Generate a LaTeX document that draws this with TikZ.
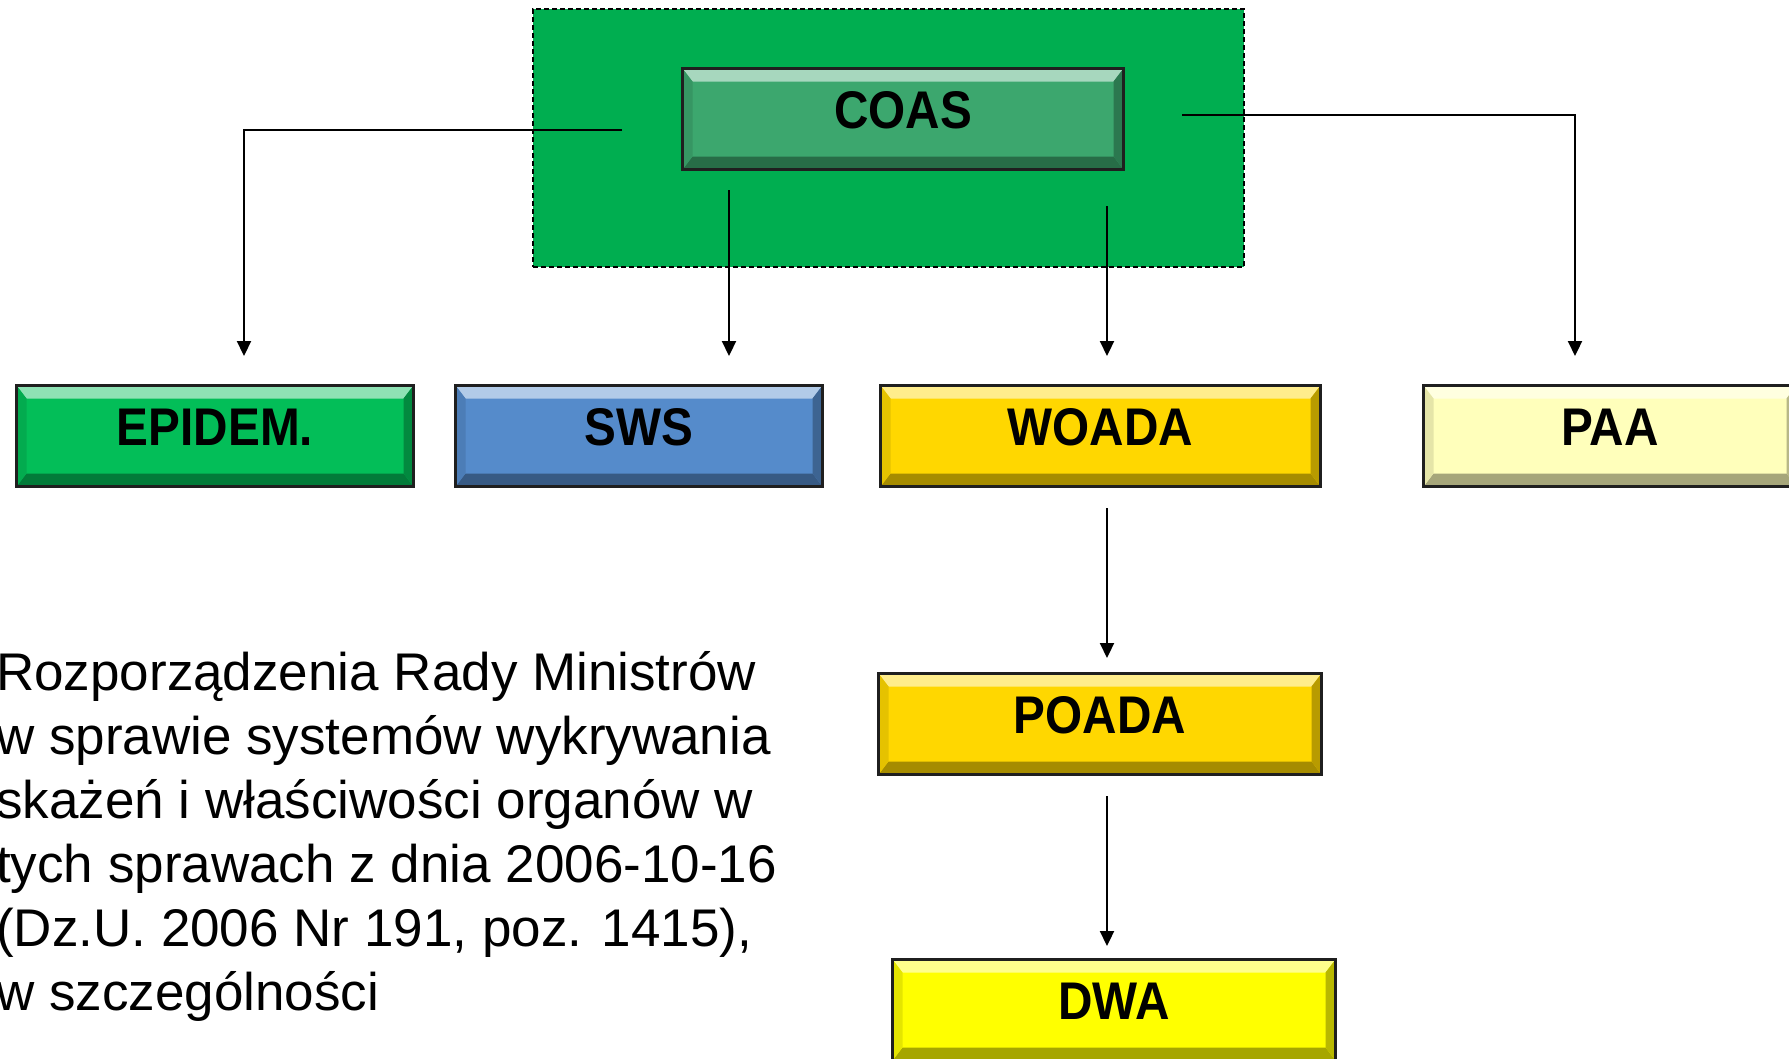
\documentclass[tikz,border=0pt]{standalone}
\usepackage{fontspec}
\setmainfont{Liberation Sans}
\newfontfamily\lblfam[FakeStretch=0.9]{Liberation Sans}
\usetikzlibrary{arrows.meta}
\definecolor{grpgreen}{RGB}{0,174,80}
\definecolor{coasgreen}{RGB}{60,167,110}
\definecolor{epigreen}{RGB}{3,190,88}
\definecolor{swsblue}{RGB}{85,139,203}
\definecolor{gold}{RGB}{255,215,0}
\definecolor{paayel}{RGB}{255,255,187}
\definecolor{dwayel}{RGB}{255,255,0}
\newcommand\lblfont{\lblfam\fontsize{53}{60}\selectfont\bfseries}
\newcommand\bodyfont{\fontsize{53}{64}\selectfont}
\tikzset{
  bevbox/.style={draw=black!88, line width=3pt, fill=#1, minimum height=101pt,
    anchor=north west, inner sep=0pt, text height=38pt, text depth=20pt,
    font=\lblfont, text=black,
    path picture={
      \fill[#1!45!white] (path picture bounding box.north west) -- (path picture bounding box.north east)
        -- ([xshift=-10pt,yshift=-13pt]path picture bounding box.north east)
        -- ([xshift=10pt,yshift=-13pt]path picture bounding box.north west) -- cycle;
      \fill[#1!65!black] (path picture bounding box.south west) -- (path picture bounding box.south east)
        -- ([xshift=-10pt,yshift=13pt]path picture bounding box.south east)
        -- ([xshift=10pt,yshift=13pt]path picture bounding box.south west) -- cycle;
      \fill[#1!90!black] (path picture bounding box.north west) -- (path picture bounding box.south west)
        -- ([xshift=10pt,yshift=13pt]path picture bounding box.south west)
        -- ([xshift=10pt,yshift=-13pt]path picture bounding box.north west) -- cycle;
      \fill[#1!72!black] (path picture bounding box.north east) -- (path picture bounding box.south east)
        -- ([xshift=-10pt,yshift=13pt]path picture bounding box.south east)
        -- ([xshift=-10pt,yshift=-13pt]path picture bounding box.north east) -- cycle;
    }},
  grp/.style={draw=black, line width=1.5pt, dash pattern=on 5pt off 3pt, fill=grpgreen,
    anchor=north west, inner sep=0pt},
  conn/.style={line width=2.2pt, -{Triangle[length=15pt,width=14pt]}},
  body/.style={anchor=base west, inner sep=0pt, font=\bodyfont}
}
\begin{document}
\begin{tikzpicture}[x=1pt,y=-1pt]
\useasboundingbox (0,0) rectangle (1789,1058);
\fill[white] (0,0) rectangle (1789,1058);
% group
\node[grp, minimum width=711pt, minimum height=258pt] (grp) at (532,8) {};
% boxes
\node[bevbox=coasgreen, minimum width=441pt] (coas) at (681,67) {COAS};
\node[bevbox=epigreen, minimum width=397pt] (epi) at (15,384) {EPIDEM.};
\node[bevbox=swsblue, minimum width=367pt] (sws) at (454,384) {SWS};
\node[bevbox=gold, minimum width=440pt] (woada) at (879,384) {WOADA};
\node[bevbox=paayel, minimum width=373pt] (paa) at (1422,384) {PAA};
\node[bevbox=gold, minimum width=443pt] (poada) at (877,672) {POADA};
\node[bevbox=dwayel, minimum width=443pt] (dwa) at (891,958) {DWA};
% connector ends
\coordinate (cL) at (622,130);
\coordinate (tEpi) at (244,356);
\coordinate (cS) at (729,190);
\coordinate (tSws) at (729,356);
\coordinate (cW) at (1107,206);
\coordinate (tWoa) at (1107,356);
\coordinate (cR) at (1182,115);
\coordinate (tPaa) at (1575,356);
\coordinate (cW2) at (1107,508);
\coordinate (tPoa) at (1107,658);
\coordinate (cP2) at (1107,796);
\coordinate (tDwa) at (1107,946);
\draw[conn] (cL) -| (tEpi);
\draw[conn] (cS) -- (tSws);
\draw[conn] (cW) -- (tWoa);
\draw[conn] (cR) -| (tPaa);
\draw[conn] (cW2) -- (tPoa);
\draw[conn] (cP2) -- (tDwa);
% text
\node[body] (t1) at (-4,690) {Rozporządzenia Rady Ministrów};
\node[body] (t2) at (-4,754) {w sprawie systemów wykrywania};
\node[body] (t3) at (-4,818) {skażeń i właściwości organów w};
\node[body] (t4) at (-4,882) {tych sprawach z dnia 2006-10-16};
\node[body] (t5) at (-4,946) {(Dz.U. 2006 Nr 191, poz. 1415),};
\node[body] (t6) at (-4,1010) {w szczególności};
\end{tikzpicture}
\end{document}
